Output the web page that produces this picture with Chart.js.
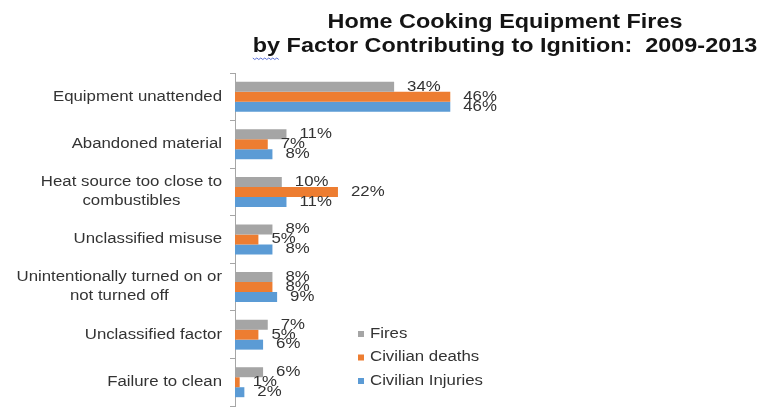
<!DOCTYPE html>
<html>
<head>
<meta charset="utf-8">
<script src="https://cdn.jsdelivr.net/npm/chart.js@4.4.1/dist/chart.umd.min.js"></script>
<style>
  html, body { margin: 0; padding: 0; background: #ffffff; }
  canvas { display: block; }
</style>
</head>
<body>
<canvas id="chart" width="759" height="409"></canvas>
<script>
// Categories (multi-line labels as arrays)
const categories = [
  ['Equipment unattended'],
  ['Abandoned material'],
  ['Heat source too close to', 'combustibles'],
  ['Unclassified misuse'],
  ['Unintentionally turned on or', 'not turned off'],
  ['Unclassified factor'],
  ['Failure to clean']
];

const seriesNames = ['Fires', 'Civilian deaths', 'Civilian Injuries'];

// Percent shares, 2009-2013
const fires            = [34, 11, 10, 8, 8, 7, 6];
const civilianDeaths   = [46,  7, 22, 5, 8, 5, 1];
const civilianInjuries = [46,  8, 11, 8, 9, 6, 2];

const titleLines = ['Home Cooking Equipment Fires', 'by Factor Contributing to Ignition:  2009-2013'];

const seriesColors = ['#a5a5a5', '#ed7d31', '#5b9bd5'];
const FONT = '"Liberation Sans", Arial, sans-serif';
const STRETCH = 1.2;        // horizontal stretch of body text
const TITLE_STRETCH = 1.17; // horizontal stretch of title text
const TEXT_COLOR = '#333333';

function wideText(ctx, text, x, y, align, sx) {
  ctx.save();
  ctx.translate(x, y);
  ctx.scale(sx, 1);
  ctx.textAlign = align;
  ctx.fillText(text, 0, 0);
  ctx.restore();
}

// Category labels, right-aligned block with centred lines
const categoryLabels = {
  id: 'categoryLabels',
  afterDraw(chart) {
    const ctx = chart.ctx;
    const yScale = chart.scales.y;
    const right = yScale.left - 8;
    ctx.save();
    ctx.font = '14px ' + FONT;
    ctx.fillStyle = TEXT_COLOR;
    ctx.textBaseline = 'middle';
    categories.forEach((lines, i) => {
      const yc = yScale.getPixelForValue(i);
      const widths = lines.map(l => ctx.measureText(l).width * STRETCH);
      const maxW = Math.max(...widths);
      const cx = right - maxW / 2;
      lines.forEach((line, j) => {
        const y = yc + (j - (lines.length - 1) / 2) * 19;
        wideText(ctx, line, cx, y, 'center', STRETCH);
      });
    });
    ctx.restore();
  }
};

// Percent labels at the end of each bar
const valueLabels = {
  id: 'valueLabels',
  afterDatasetsDraw(chart) {
    const ctx = chart.ctx;
    ctx.save();
    ctx.font = '14px ' + FONT;
    ctx.fillStyle = TEXT_COLOR;
    ctx.textBaseline = 'middle';
    chart.data.datasets.forEach((ds, di) => {
      const meta = chart.getDatasetMeta(di);
      meta.data.forEach((bar, i) => {
        wideText(ctx, ds.data[i] + '%', bar.x + 13, bar.y, 'left', STRETCH);
      });
    });
    ctx.restore();
  }
};

// Legend inside the plot, lower right
const insideLegend = {
  id: 'insideLegend',
  afterDraw(chart) {
    const ctx = chart.ctx;
    const x0 = 358, y0 = 334, step = 23.5;
    ctx.save();
    ctx.font = '14px ' + FONT;
    ctx.textBaseline = 'middle';
    chart.data.datasets.forEach((ds, i) => {
      const y = y0 + i * step;
      ctx.fillStyle = ds.backgroundColor;
      ctx.fillRect(x0, y - 3, 6, 6);
      ctx.fillStyle = TEXT_COLOR;
      wideText(ctx, ds.label, x0 + 12, y, 'left', STRETCH);
    });
    ctx.restore();
  }
};

// Two-line bold title
const twoLineTitle = {
  id: 'twoLineTitle',
  afterDraw(chart) {
    const ctx = chart.ctx;
    const cx = 505;
    ctx.save();
    ctx.font = 'bold 20px ' + FONT;
    ctx.fillStyle = '#141414';
    ctx.textBaseline = 'middle';
    wideText(ctx, titleLines[0], cx, 22, 'center', TITLE_STRETCH);
    wideText(ctx, titleLines[1], cx, 46, 'center', TITLE_STRETCH);
    // wavy underline under the first word of line two
    const w2 = ctx.measureText(titleLines[1]).width * TITLE_STRETCH;
    const firstWord = titleLines[1].split(' ')[0];
    const wb = ctx.measureText(firstWord).width * TITLE_STRETCH;
    const sx = cx - w2 / 2;
    ctx.strokeStyle = '#5a6fd6';
    ctx.lineWidth = 1;
    ctx.beginPath();
    for (let x = 0; x <= wb; x += 2) {
      const y = 58 + ((x / 2) % 2 === 0 ? 0 : 1.5);
      if (x === 0) ctx.moveTo(sx + x, y); else ctx.lineTo(sx + x, y);
    }
    ctx.stroke();
    ctx.restore();
  }
};

new Chart(document.getElementById('chart'), {
  type: 'bar',
  data: {
    labels: categories,
    datasets: [
      { label: seriesNames[0], data: fires, backgroundColor: seriesColors[0] },
      { label: seriesNames[1], data: civilianDeaths, backgroundColor: seriesColors[1] },
      { label: seriesNames[2], data: civilianInjuries, backgroundColor: seriesColors[2] }
    ]
  },
  options: {
    indexAxis: 'y',
    responsive: false,
    animation: false,
    devicePixelRatio: 1,
    layout: { padding: { left: 230, top: 73, right: 290, bottom: 3 } },
    datasets: { bar: { barPercentage: 1.0, categoryPercentage: 0.63 } },
    plugins: {
      legend: { display: false },
      title: { display: false },
      tooltip: { enabled: false }
    },
    scales: {
      x: { display: false, min: 0, max: 50 },
      y: {
        grid: { display: true, drawOnChartArea: false, drawTicks: true, tickLength: 5, color: '#a6a6a6' },
        border: { display: true, color: '#a6a6a6' },
        ticks: { display: false }
      }
    }
  },
  plugins: [valueLabels, categoryLabels, insideLegend, twoLineTitle]
});
</script>
</body>
</html>
